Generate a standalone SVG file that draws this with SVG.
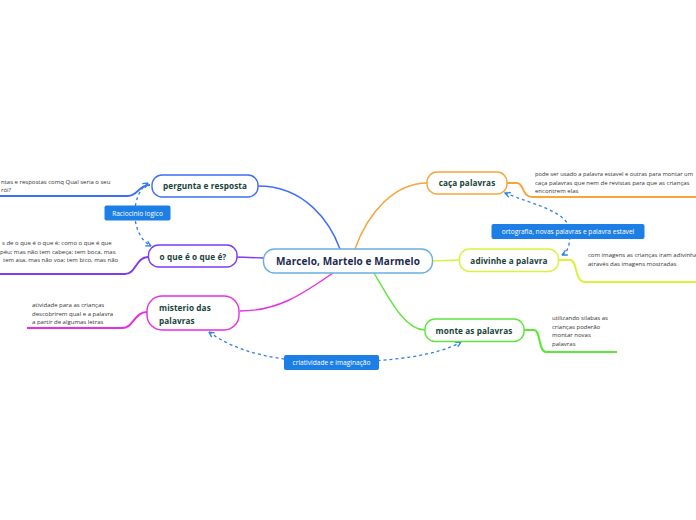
<svg xmlns="http://www.w3.org/2000/svg" width="696" height="520" viewBox="0 0 696 520">
<defs>
<style>
.node{fill:#fff;stroke-width:1.4}
.nt{font-family:"Open Sans","Liberation Sans",sans-serif;font-weight:700;font-size:8.2px;fill:#16433a;letter-spacing:0.1px}
.ct{font-family:"Open Sans","Liberation Sans",sans-serif;font-weight:700;font-size:10px;fill:#1b2b4f;letter-spacing:0.1px}
.leaf{font-family:"Open Sans","Liberation Sans",sans-serif;font-size:6px;fill:#333}
.sm{font-size:5.8px}
.lbl{fill:#1d7fe5}
.lt{font-family:"Open Sans","Liberation Sans",sans-serif;font-size:6.6px;fill:#fff}
.c{fill:none;stroke-width:1.4}
.u{fill:none;stroke-width:2}
.d{fill:none;stroke:#2f80e8;stroke-width:1.3;stroke-dasharray:3 3}
</style>
<marker id="ah" viewBox="0 0 10 10" refX="9" refY="5" markerWidth="5" markerHeight="5" orient="auto-start-reverse">
<path d="M1,1 L9,5 L1,9" fill="none" stroke="#2f80e8" stroke-width="2"/>
</marker>
</defs>
<rect width="696" height="520" fill="#fff"/>

<g id="connectors">
<path class="c" stroke="#3d6ff5" d="M340,249 C330,222 305,186 258,186"/>
<path class="c" stroke="#f7a43a" d="M355,249 C368,212 395,183 427,183"/>
<path class="c" stroke="#7d3cf0" d="M237,257 L264,258"/>
<path class="c" stroke="#e62ee6" d="M333,273 C305,292 280,311 240,311"/>
<path class="c" stroke="#d9f23b" d="M432,261 L459,260"/>
<path class="c" stroke="#5ce83a" d="M374,273 C390,300 405,330 425,330"/>
<path class="u" stroke="#3d6ff5" d="M0,196 L128,196 C138,196 138,185 150,185"/>
<path class="u" stroke="#7d3cf0" d="M0,274 L125,274 C136,274 136,257 148,257"/>
<path class="u" stroke="#e62ee6" d="M27,328 L122,328 C134,328 134,312 147,312"/>
<path class="u" stroke="#f7a43a" d="M507,183 L517,183 C524,183 522,197 532,197 L696,197"/>
<path class="u" stroke="#d9f23b" d="M559,260 L570,260 C578,260 574,282 585,282 L696,282"/>
<path class="u" stroke="#5ce83a" d="M524,330 L534,330 C541,330 538,352 546,352 L617,352"/>
<path class="d" marker-start="url(#ah)" marker-end="url(#ah)" d="M148,183 C130,195 130,235 151,246"/>
<path class="d" marker-start="url(#ah)" marker-end="url(#ah)" d="M505,193 C535,205 570,212 570,232 C570,245 568,252 562,255"/>
<path class="d" marker-start="url(#ah)" marker-end="url(#ah)" d="M209,332 Q250,362 331,362 Q425,362 461,342"/>
</g>

<g id="central">
<rect class="node" x="263.5" y="249" width="169" height="24" rx="11" stroke="#6aaee0"/>
<text class="ct" x="348" y="264.5" text-anchor="middle">Marcelo, Martelo e Marmelo</text>
</g>

<g id="pergunta">
<rect class="node" x="152" y="175" width="106" height="22" rx="10" stroke="#3d6ff5"/>
<text class="nt" x="205" y="189" text-anchor="middle">pergunta e resposta</text>
</g>
<g id="pergunta-nota">
<text class="leaf" x="1" y="184">ntas e respostas comq Qual seria o seu</text>
<text class="leaf" x="1" y="192">rói?</text>
</g>

<g id="oque">
<rect class="node" x="148.5" y="245" width="88.5" height="22" rx="10" stroke="#7d3cf0"/>
<text class="nt" x="193" y="259.5" text-anchor="middle">o que é o que é?</text>
</g>
<g id="oque-nota">
<text class="leaf" x="2" y="245">s de o que é o que é; como o que é que</text>
<text class="leaf" x="0" y="253.5">péu; mas não tem cabeça; tem boca, mas</text>
<text class="leaf" x="3" y="262">tem asa, mas não voa; tem bico, mas não</text>
</g>

<g id="misterio">
<rect class="node" x="147" y="296" width="92" height="34" rx="15" stroke="#e62ee6"/>
<text class="nt" x="159" y="311">misterio das</text>
<text class="nt" x="159" y="324">palavras</text>
</g>
<g id="misterio-nota">
<text class="leaf" x="32" y="307">atividade para as crianças</text>
<text class="leaf" x="32" y="315.5">descobrirem qual e a palavra</text>
<text class="leaf" x="32" y="324">a partir de algumas letras</text>
</g>

<g id="caca">
<rect class="node" x="427" y="172" width="80" height="22" rx="10" stroke="#f7a43a"/>
<text class="nt" x="467" y="186" text-anchor="middle">caça palavras</text>
</g>
<g id="caca-nota">
<text class="leaf sm" x="535" y="176">pode ser usado a palavra estavel e outras para montar um</text>
<text class="leaf" x="535" y="184.5">caça palavras que nem de revistas para que as crianças</text>
<text class="leaf" x="535" y="193">encontrem elas</text>
</g>

<g id="adivinhe">
<rect class="node" x="459.5" y="249" width="99" height="22.5" rx="10" stroke="#d9f23b"/>
<text class="nt" x="509" y="263.5" text-anchor="middle">adivinhe a palavra</text>
</g>
<g id="adivinhe-nota">
<text class="leaf" x="588" y="257">com imagens as crianças iram adivinha</text>
<text class="leaf" x="588" y="265.5">através das imagens mostradas</text>
</g>

<g id="monte">
<rect class="node" x="425" y="319" width="99" height="22.5" rx="10" stroke="#5ce83a"/>
<text class="nt" x="474" y="333.5" text-anchor="middle">monte as palavras</text>
</g>
<g id="monte-nota">
<text class="leaf" x="552" y="320">utilizando silabas as</text>
<text class="leaf" x="552" y="328.5">crianças poderão</text>
<text class="leaf" x="552" y="337">montar novas</text>
<text class="leaf" x="552" y="345.5">palavras</text>
</g>

<g id="rel-raciocinio">
<rect class="lbl" x="104.5" y="205.5" width="66" height="15" rx="2"/>
<text class="lt" x="137.5" y="215.5" text-anchor="middle">Raciocinio logico</text>
</g>
<g id="rel-ortografia">
<rect class="lbl" x="491.5" y="224" width="153" height="15" rx="2"/>
<text class="lt" x="568" y="234" text-anchor="middle">ortografia, novas palavras e palavra estavel</text>
</g>
<g id="rel-criatividade">
<rect class="lbl" x="284" y="355" width="95" height="15" rx="2"/>
<text class="lt" x="331.5" y="365" text-anchor="middle">criatividade e imaginação</text>
</g>
</svg>
